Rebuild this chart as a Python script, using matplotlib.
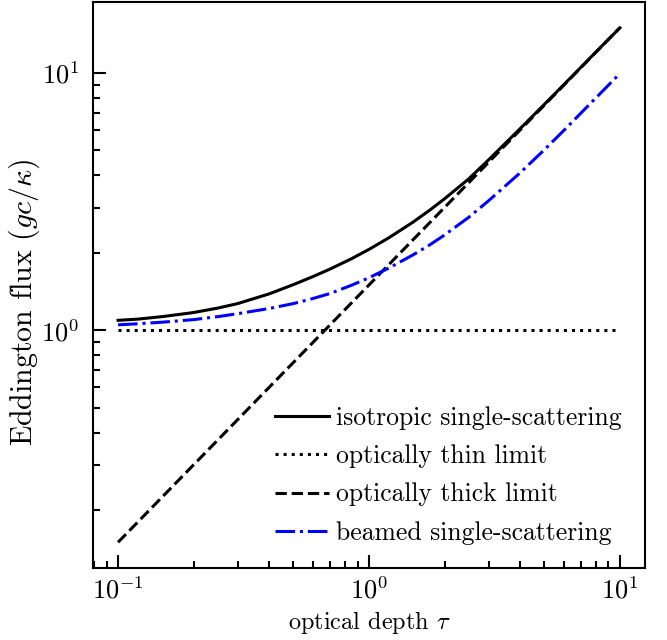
import numpy as np
import matplotlib
matplotlib.use('Agg')
import matplotlib.pyplot as plt
from matplotlib.ticker import NullFormatter

# Values
tau = [0.1, 0.12, 0.15, 0.2, 0.25, 0.3, 0.4, 0.5, 0.6, 0.7, 0.85, 1.0, 1.2, 1.5,
       1.75, 2.0, 2.5, 3.0, 4.0, 5.0, 6.0, 7.0, 8.5, 10.0]
flux_isotropic = [1.093, 1.105, 1.13, 1.172, 1.22, 1.27, 1.385, 1.505, 1.619, 1.73,
                  1.895, 2.062, 2.288, 2.634, 2.934, 3.243, 3.88, 4.60, 6.07, 7.55,
                  9.04, 10.53, 12.77, 14.97]
flux_beamed = [1.05, 1.06, 1.075, 1.10, 1.13, 1.16, 1.215, 1.27, 1.33, 1.39,
               1.495, 1.60, 1.745, 1.965, 2.15, 2.345, 2.75, 3.19, 4.09, 5.03,
               6.0, 6.99, 8.47, 9.95]
tau_limits = [0.1, 10.0]
flux_thin = [1.0, 1.0]
flux_thick = [0.15, 15.0]

plt.rcParams['font.family'] = 'cmr10'
plt.rcParams['mathtext.fontset'] = 'cm'
plt.rcParams['axes.formatter.use_mathtext'] = True
plt.rcParams['axes.unicode_minus'] = False

fig = plt.figure(figsize=(6.67, 6.4), dpi=100)
ax = fig.add_axes([0.1394, 0.1125, 0.8276, 0.8845])

ax.plot(tau, flux_isotropic, color='black', lw=2.2, ls='-', label='isotropic single-scattering')
ax.plot(tau_limits, flux_thin, color='black', lw=2.2, ls=':', label='optically thin limit')
ax.plot(tau_limits, flux_thick, color='black', lw=2.2, ls='--', label='optically thick limit')
ax.plot(tau, flux_beamed, color='blue', lw=2.2, ls='-.', label='beamed single-scattering')

ax.set_xscale('log')
ax.set_yscale('log')
ax.xaxis.set_minor_formatter(NullFormatter())
ax.yaxis.set_minor_formatter(NullFormatter())

ax.tick_params(which='both', direction='in', width=1.5, labelsize=19)
ax.tick_params(axis='x', pad=6)
ax.tick_params(axis='y', pad=10)
ax.tick_params(which='major', length=9.5)
ax.tick_params(which='minor', length=5)
for s in ax.spines.values():
    s.set_linewidth(1.5)

ax.set_xlabel(r'optical depth $\tau$', fontsize=17.5)
ax.set_ylabel(r'Eddington flux $(gc/\kappa)$', fontsize=21.5)
ax.yaxis.set_label_coords(-0.092, 0.47)
ax.legend(loc='lower right', frameon=False, fontsize=18.5, handlelength=2.1,
          handletextpad=0.3, labelspacing=0.57)

fig.savefig('out.png', dpi=100)
